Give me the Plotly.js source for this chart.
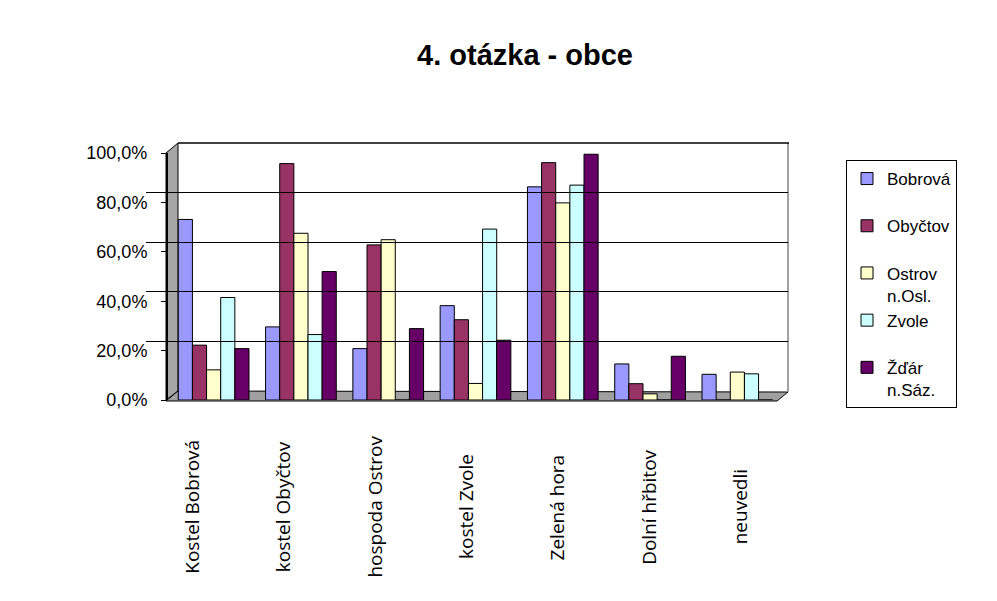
<!DOCTYPE html>
<html>
<head>
<meta charset="utf-8">
<script src="https://cdn.plot.ly/plotly-3.0.1.min.js"></script>
<style>
  html, body { margin: 0; padding: 0; background: #ffffff; }
  #chart { width: 997px; height: 601px; }
  #edge { position: absolute; left: 8px; top: 12px; width: 2px; height: 589px; background: #000; }
</style>
</head>
<body>
<div id="edge"></div>
<div id="chart"></div>
<script>
// ---- data ----
const categories = ["Kostel Bobrová", "kostel Obyčtov", "hospoda Ostrov", "kostel Zvole", "Zelená hora", "Dolní hřbitov", "neuvedli"];
const seriesNames = ["Bobrová", "Obyčtov", "Ostrov<br>n.Osl.", "Zvole", "Žďár<br>n.Sáz."];
const bobrova = [0.731, 0.296, 0.208, 0.382, 0.863, 0.146, 0.104];
const obyctov = [0.222, 0.957, 0.628, 0.325, 0.961, 0.066, 0.0];
const ostrov  = [0.122, 0.675, 0.649, 0.067, 0.798, 0.025, 0.113];
const zvole   = [0.415, 0.265, 0.0, 0.692, 0.870, 0.0, 0.106];
const zdar    = [0.208, 0.520, 0.289, 0.242, 0.995, 0.177, 0.0];
const yTicks  = [0, 0.2, 0.4, 0.6, 0.8, 1.0];
const chartTitle = "4. otázka - obce";

const seriesValues = [bobrova, obyctov, ostrov, zvole, zdar];
const colors = ["#9999FF", "#993366", "#FFFFCC", "#CCFFFF", "#660066"];

const traces = [
  {type: "scatter", x: [], y: [], xaxis: "x", yaxis: "y", showlegend: false, hoverinfo: "skip"}
];
seriesValues.forEach((vals, i) => {
  traces.push({
    type: "bar",
    name: seriesNames[i] + (seriesNames[i].indexOf("<br>") < 0 ? "<br> " : ""),
    x: categories,
    y: vals,
    xaxis: "x2",
    yaxis: "y2",
    marker: {color: colors[i], line: {color: "#000000", width: 1}}
  });
});

// helpers to convert pixel positions to paper fractions (plot area 140..790 x, 143..402 y)
const L = 140, R = 790, T = 143, B = 402;
const px = v => (v - L) / (R - L);
const py = v => (B - v) / (B - T);

const annotations = categories.map(c => ({
  text: c, xref: "x3", yref: "paper", x: c, y: py(507),
  textangle: -90, showarrow: false, xanchor: "center", yanchor: "middle",
  font: {family: "Open Sans, sans-serif", size: 19, color: "#000"}
}));

const shapes = [
  // left wall
  {type: "path", xref: "paper", yref: "paper", layer: "below",
   path: `M ${px(166)} ${py(400)} L ${px(166)} ${py(153)} L ${px(178)} ${py(143)} L ${px(178)} ${py(391)} Z`,
   fillcolor: "#a6a6a6", line: {color: "#000", width: 1}},
  // floor
  {type: "path", xref: "paper", yref: "paper", layer: "below",
   path: `M ${px(166)} ${py(401)} L ${px(777)} ${py(401)} L ${px(788)} ${py(392)} L ${px(178)} ${py(391)} Z`,
   fillcolor: "#a0a0a0", line: {color: "#000", width: 1}},
  // back wall right edge
  {type: "line", xref: "paper", yref: "paper", layer: "below",
   x0: px(788), x1: px(788), y0: py(392), y1: py(143), line: {color: "#a0a0a0", width: 2}},
  // back wall top edge
  {type: "line", xref: "paper", yref: "paper", layer: "below",
   x0: px(178), x1: px(789), y0: py(143), y1: py(143), line: {color: "#000", width: 1.5}}
];

const layout = {
  width: 997, height: 601,
  margin: {l: L, r: 997 - R, t: T, b: 601 - B, pad: 0},
  paper_bgcolor: "#ffffff",
  plot_bgcolor: "rgba(0,0,0,0)",
  separators: ", ",
  barmode: "group",
  bargap: 0.19,
  bargroupgap: 0,
  showlegend: true,
  title: {
    text: chartTitle, x: 525 / 997, xref: "container", xanchor: "center",
    y: 1 - 55 / 601, yref: "container", yanchor: "middle",
    font: {family: "Liberation Sans, Arial, sans-serif", size: 29, weight: "bold", color: "#000"}
  },
  // back wall grid
  xaxis: {domain: [px(178), px(788)], anchor: "y", visible: false, range: [0, 1], fixedrange: true},
  yaxis: {domain: [py(391), 1], anchor: "x", range: [0, 1], tickvals: yTicks, showgrid: true,
          gridcolor: "#000000", gridwidth: 1.2, zeroline: false, showticklabels: false, ticks: "",
          showline: false},
  // bars (front scale)
  xaxis2: {domain: [px(170), px(781)], anchor: "y2", type: "category", categoryarray: categories,
           range: [-0.5, categories.length - 0.5], showticklabels: false, ticks: "", showgrid: false,
           zeroline: false, showline: false},
  yaxis2: {domain: [py(400), py(153)], anchor: "free", position: px(166), range: [0, 1],
           tickvals: yTicks, tickformat: ".1%", showgrid: false, zeroline: false,
           showline: true, linecolor: "#000", linewidth: 1.5, ticks: "outside", ticklen: 5,
           tickcolor: "#000", ticklabelstandoff: 10,
           tickfont: {family: "Liberation Sans, Arial, sans-serif", size: 18, color: "#000"}},
  // label axis (floor front edge perspective)
  xaxis3: {domain: [px(146), px(786)], anchor: "y", type: "category", categoryarray: categories,
           range: [-0.5, categories.length - 0.5], visible: false},
  legend: {
    x: px(846), y: py(160), xanchor: "left", yanchor: "top",
    bordercolor: "#000", borderwidth: 1, bgcolor: "#fff",
    valign: "top", tracegroupgap: 0, indentation: -16, entrywidth: 100,
    font: {family: "Liberation Sans, Arial, sans-serif", size: 17, color: "#000"}
  },
  annotations: annotations,
  shapes: shapes
};

Plotly.newPlot("chart", traces, layout, {displayModeBar: false, staticPlot: true});
</script>
</body>
</html>
